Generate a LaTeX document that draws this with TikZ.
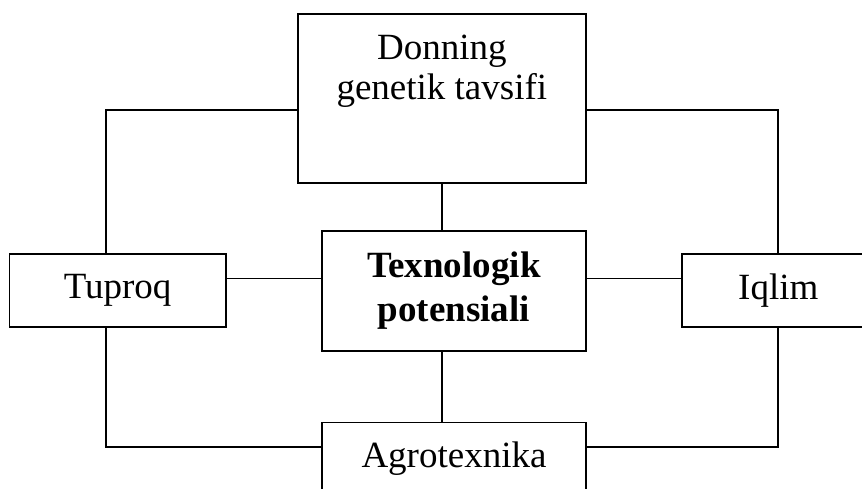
\documentclass[tikz,border=0pt]{standalone}
\usepackage{fontspec}
\setmainfont{Liberation Serif}
\begin{document}
\begin{tikzpicture}[x=1pt,y=-1pt,
  box/.style={draw=black, line width=1.6pt, inner sep=0pt, align=center, font=\fontsize{37}{40}\selectfont},
  conn/.style={draw=black, line width=1.6pt},
  lbl/.style={inner sep=0pt, align=center, font=\fontsize{37}{40}\selectfont}]
\useasboundingbox (0,0) rectangle (862,488);
% boxes
\node[box, minimum width=288.3pt, minimum height=168.7pt] (top) at (441.85,98.35) {};
\node[lbl, anchor=north] (toptext) at (441.85,34.7) {Donning\\genetik tavsifi};
\node[box, minimum width=264.3pt, minimum height=120pt, font=\fontsize{37}{44}\selectfont\bfseries] (center) at (453.85,290.7) {Texnologik\\potensiali};
\node[box, minimum width=216.7pt, minimum height=73pt] (tuproq) at (117.65,290.5) {Tuproq};
\node[box, minimum width=193.2pt, minimum height=73pt] (iqlim) at (778.3,290.5) {Iqlim};
\node[box, minimum width=264pt, minimum height=72pt] (agro) at (454,458.3) {Agrotexnika};
% corner coordinates
\coordinate (tl) at (106,110);
\coordinate (tr) at (778,110);
\coordinate (bl) at (106,446.7);
\coordinate (br) at (778,446.7);
\coordinate (hl) at ([yshift=12pt]tuproq.east);
\coordinate (hr) at ([yshift=12pt]iqlim.west);
% connectors
\draw[conn] (tuproq.north -| tl) -- (tl) -- (tl -| top.west);
\draw[conn] (top.east |- tr) -- (tr) -- (tr |- iqlim.north);
\draw[conn] (tuproq.south -| bl) -- (bl) -- (bl -| agro.west);
\draw[conn] (iqlim.south -| br) -- (br) -- (br -| agro.east);
\draw[conn] (hl) -- (hl -| center.west);
\draw[conn] (hr) -- (hr -| center.east);
\draw[conn] (top.south) -- (top.south |- center.north);
\draw[conn] (top.south |- center.south) -- (top.south |- agro.north);
\end{tikzpicture}
\end{document}
